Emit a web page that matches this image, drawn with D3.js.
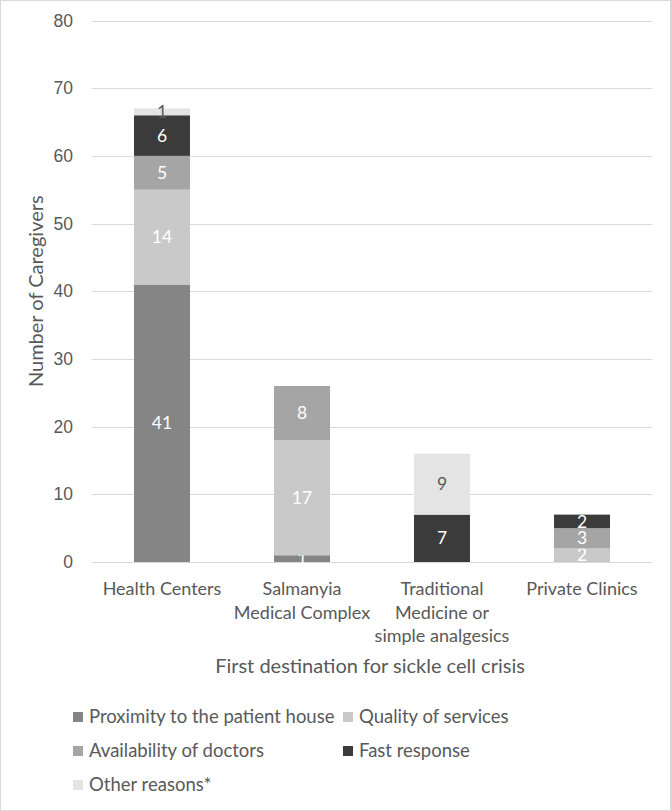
<!DOCTYPE html>
<html lang="en">
<head>
  <meta charset="UTF-8" />
  <title>First destination for sickle cell crisis</title>
  <script src="https://d3js.org/d3.v7.min.js"></script>
  <style>
    body { margin: 0; background: #fff; }
    svg { display: block; font-family: Lato, "Noto Sans", sans-serif; }
  </style>
</head>
<body>
  <svg id="chart" width="671" height="811"></svg>

  <script>
    // data
    const categories = [
      ["Health Centers"],
      ["Salmanyia", "Medical Complex"],
      ["Traditional", "Medicine or", "simple analgesics"],
      ["Private Clinics"]
    ];
    const seriesNames = [
      "Proximity to the patient house",
      "Quality of services",
      "Availability of doctors",
      "Fast response",
      "Other reasons*"
    ];
    const proximity = [41, 1, 0, 0];
    const quality = [14, 17, 0, 2];
    const availability = [5, 8, 0, 3];
    const fastResponse = [6, 0, 7, 2];
    const otherReasons = [1, 0, 9, 0];
    const yTicks = [0, 10, 20, 30, 40, 50, 60, 70, 80];

    const colors = ["#858585", "#c9c9c9", "#a5a5a5", "#3b3b3b", "#e4e4e4"];
    const labelColors = ["#fff", "#fff", "#fff", "#fff", "#595959"];

    const svg = d3.select("#chart");
    const W = 671, H = 811;
    const margin = { left: 92, right: 19, top: 20.5, bottom: 249 };

    svg.append("rect")
      .attr("x", 0.5).attr("y", 0.5)
      .attr("width", W - 1).attr("height", H - 1)
      .attr("fill", "#fff").attr("stroke", "#d9d9d9");

    const keys = seriesNames.map((d, i) => i);
    const rows = categories.map((c, j) => ({
      cat: c.join(" "),
      0: proximity[j], 1: quality[j], 2: availability[j], 3: fastResponse[j], 4: otherReasons[j]
    }));
    const stacked = d3.stack().keys(keys)(rows);

    const x = d3.scaleBand()
      .domain(rows.map(d => d.cat))
      .range([margin.left, W - margin.right])
      .paddingInner(0.6).paddingOuter(0.3);

    const y = d3.scaleLinear()
      .domain([0, 80])
      .range([H - margin.bottom, margin.top]);

    // gridlines
    svg.append("g")
      .selectAll("line")
      .data(yTicks)
      .join("line")
      .attr("x1", margin.left).attr("x2", W - margin.right)
      .attr("y1", d => Math.round(y(d)) + 0.5).attr("y2", d => Math.round(y(d)) + 0.5)
      .attr("stroke", "#d9d9d9");

    // y axis labels
    const yAxis = svg.append("g")
      .attr("transform", `translate(${margin.left - 19},0)`)
      .call(d3.axisLeft(y).tickValues(yTicks).tickSize(0).tickPadding(0));
    yAxis.select(".domain").remove();
    yAxis.selectAll("text")
      .attr("fill", "#595959").style("font-size", "17.5px");

    // bars
    const layer = svg.append("g")
      .selectAll("g")
      .data(stacked)
      .join("g")
      .attr("fill", d => colors[d.key]);

    layer.selectAll("rect")
      .data(d => d.map(s => ({ s, key: d.key })))
      .join("rect")
      .attr("x", d => x(d.s.data.cat))
      .attr("width", x.bandwidth())
      .attr("y", d => y(d.s[1]))
      .attr("height", d => y(d.s[0]) - y(d.s[1]));

    // data labels
    layer.selectAll("text")
      .data(d => d.map(s => ({ s, key: d.key })).filter(d => d.s[1] - d.s[0] > 0))
      .join("text")
      .attr("x", d => x(d.s.data.cat) + x.bandwidth() / 2)
      .attr("y", d => y((d.s[0] + d.s[1]) / 2))
      .attr("dy", "0.35em")
      .attr("text-anchor", "middle")
      .attr("fill", d => labelColors[d.key])
      .style("font-size", "17.5px")
      .text(d => d.s[1] - d.s[0]);

    // x category labels
    const xl = svg.append("g")
      .selectAll("text")
      .data(categories)
      .join("text")
      .attr("x", (d, i) => x(rows[i].cat) + x.bandwidth() / 2)
      .attr("y", 595)
      .attr("text-anchor", "middle")
      .attr("fill", "#595959")
      .style("font-size", "18px");
    xl.selectAll("tspan")
      .data(d => d)
      .join("tspan")
      .attr("x", function () { return d3.select(this.parentNode).attr("x"); })
      .attr("dy", (d, i) => i === 0 ? 0 : 23.5)
      .text(d => d);

    // axis titles
    svg.append("text")
      .attr("x", (margin.left + W - margin.right) / 2 - 2)
      .attr("y", 673)
      .attr("text-anchor", "middle")
      .attr("fill", "#595959")
      .style("font-size", "20px")
      .text("First destination for sickle cell crisis");

    svg.append("text")
      .attr("transform", `translate(43,${(y(0) + y(80)) / 2}) rotate(-90)`)
      .attr("text-anchor", "middle")
      .attr("fill", "#595959")
      .style("font-size", "20px")
      .text("Number of Caregivers");

    // legend
    const legendPos = [[73, 717], [343, 717], [73, 751], [343, 751], [73, 785]];
    const legend = svg.append("g")
      .selectAll("g")
      .data(seriesNames)
      .join("g")
      .attr("transform", (d, i) => `translate(${legendPos[i][0]},${legendPos[i][1]})`);
    legend.append("rect")
      .attr("x", 0).attr("y", -5).attr("width", 10).attr("height", 10)
      .attr("fill", (d, i) => colors[i]);
    legend.append("text")
      .attr("x", 16).attr("dy", "0.35em")
      .attr("fill", "#595959")
      .style("font-size", "18.5px")
      .text(d => d);
  </script>
</body>
</html>
